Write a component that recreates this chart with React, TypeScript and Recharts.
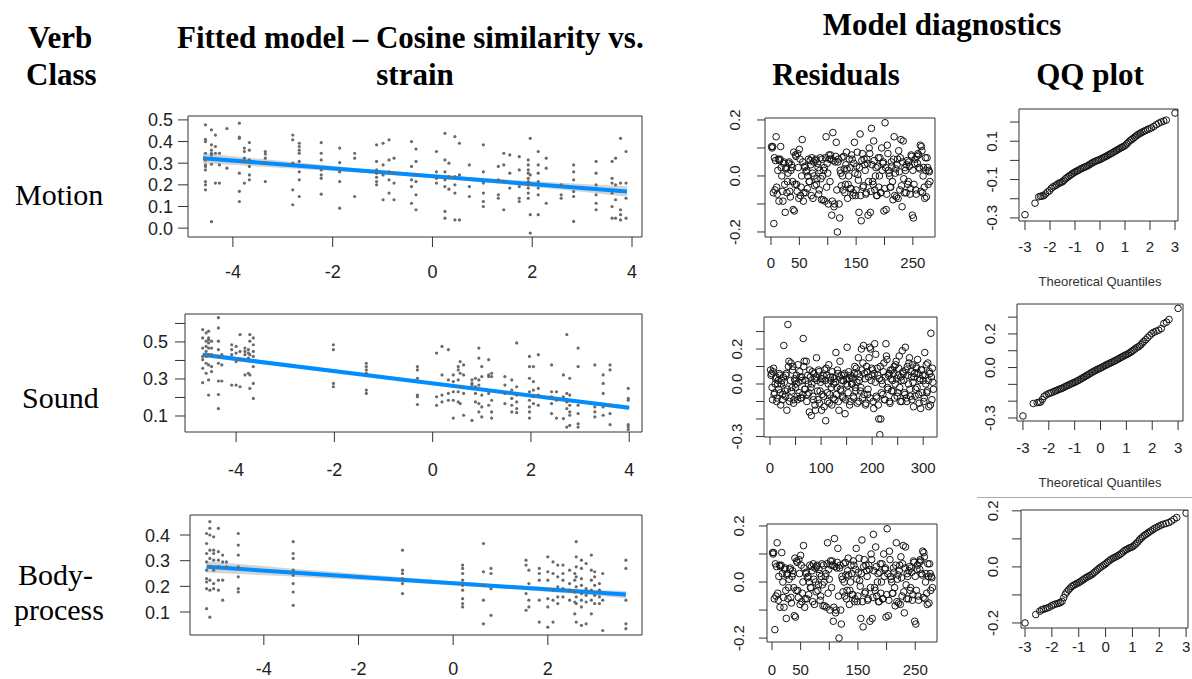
import React from 'react';
import { Area, ComposedChart, Line, ReferenceArea, Scatter, XAxis, YAxis } from 'recharts';

const SANS = '"Liberation Sans", Arial, sans-serif';
const SERIF = '"Liberation Serif", "Times New Roman", serif';

// ---- fitted model: strain (x) vs cosine similarity (y), one column of points per strain value
const motionColumns: [number, number[]][] = [
  [-4.55, [0.477, 0.41, 0.4, 0.346, 0.315, 0.292, 0.285, 0.269, 0.215, 0.2, 0.177]],
  [-4.43, [0.454, 0.385, 0.36, 0.346, 0.338, 0.295, 0.03]],
  [-4.35, [0.43, 0.377, 0.346, 0.208]],
  [-4.27, [0.346, 0.292, 0.208]],
  [-4.12, [0.46, 0.277]],
  [-3.87, [0.485, 0.42, 0.415, 0.254, 0.17, 0.123]],
  [-3.77, [0.37, 0.354, 0.323, 0.308, 0.208]],
  [-3.67, [0.395, 0.36, 0.315, 0.285, 0.246, 0.223]],
  [-3.35, [0.354, 0.343, 0.323, 0.3, 0.215]],
  [-2.8, [0.43, 0.408, 0.3, 0.177, 0.108]],
  [-2.67, [0.392, 0.377, 0.36, 0.346, 0.308, 0.26, 0.223, 0.146]],
  [-2.23, [0.395, 0.346, 0.315, 0.269, 0.246, 0.23, 0.157]],
  [-1.86, [0.37, 0.303, 0.26, 0.215, 0.092]],
  [-1.56, [0.346, 0.323, 0.146]],
  [-1.12, [0.385, 0.308, 0.269, 0.254, 0.235, 0.215, 0.2]],
  [-0.99, [0.392, 0.292, 0.246, 0.131]],
  [-0.87, [0.408, 0.315, 0.26, 0.223, 0.162]],
  [-0.77, [0.323, 0.254, 0.208, 0.131]],
  [-0.42, [0.4, 0.285, 0.223, 0.192, 0.115]],
  [-0.33, [0.365, 0.308, 0.246, 0.215, 0.154, 0.085]],
  [0.08, [0.354, 0.26, 0.23, 0.208]],
  [0.25, [0.438, 0.315, 0.26, 0.223, 0.192, 0.077, 0.046]],
  [0.33, [0.3, 0.238, 0.18]],
  [0.45, [0.423, 0.238, 0.2, 0.162, 0.038]],
  [0.54, [0.392, 0.246, 0.038]],
  [0.74, [0.292, 0.192, 0.146]],
  [1.02, [0.385, 0.26, 0.208, 0.162, 0.123, 0.1]],
  [1.32, [0.285, 0.223, 0.154, 0.138]],
  [1.43, [0.346, 0.292, 0.215, 0.085]],
  [1.55, [0.338, 0.254, 0.185]],
  [1.74, [0.33, 0.269, 0.192, 0.138, 0.123]],
  [1.92, [0.315, 0.292, 0.269, 0.254, 0.23, 0.215, 0.2, 0.185, 0.162, 0.138]],
  [1.96, [0.415, 0.246, 0.062, -0.023]],
  [2.12, [0.354, 0.292, 0.254, 0.215, 0.185, 0.154, 0.062]],
  [2.28, [0.323, 0.277, 0.115]],
  [2.58, [0.2, 0.154, 0.138]],
  [2.83, [0.292, 0.26, 0.223, 0.169, 0.146, 0.031]],
  [3.28, [0.308, 0.254, 0.2, 0.154, 0.115, 0.085]],
  [3.6, [0.308, 0.23, 0.208, 0.162, 0.1, 0.046]],
  [3.67, [0.323, 0.2, 0.131, 0.046]],
  [3.77, [0.415, 0.208, 0.085, 0.062, 0.038]],
  [3.88, [0.354, 0.208, 0.138, 0.046]],
];

const soundColumns: [number, number[]][] = [
  [-4.68, [0.567, 0.522, 0.467, 0.422, 0.404, 0.358, 0.28]],
  [-4.61, [0.549, 0.504, 0.476, 0.449, 0.422, 0.385, 0.331]],
  [-4.56, [0.558, 0.522, 0.513, 0.495, 0.467, 0.431, 0.376, 0.295, 0.213]],
  [-4.5, [0.504, 0.467, 0.431, 0.367, 0.34]],
  [-4.36, [0.631, 0.576, 0.504, 0.458, 0.422, 0.385, 0.289, 0.216, 0.14]],
  [-4.29, [0.431, 0.376, 0.289]],
  [-4.09, [0.485, 0.458, 0.431, 0.267]],
  [-4.0, [0.476, 0.44, 0.394, 0.267]],
  [-3.92, [0.54, 0.449, 0.404, 0.258]],
  [-3.82, [0.467, 0.449, 0.431, 0.322]],
  [-3.75, [0.458, 0.44, 0.413, 0.331]],
  [-3.72, [0.54, 0.504, 0.431, 0.322, 0.249]],
  [-3.65, [0.522, 0.485, 0.449, 0.422, 0.367, 0.276, 0.195]],
  [-2.02, [0.485, 0.458, 0.276, 0.258]],
  [-1.35, [0.385, 0.367, 0.349, 0.331, 0.24, 0.222]],
  [-0.31, [0.367, 0.349, 0.304, 0.213, 0.204, 0.162]],
  [0.08, [0.44, 0.204, 0.158]],
  [0.19, [0.476, 0.322, 0.213, 0.176]],
  [0.32, [0.458, 0.295, 0.222, 0.185]],
  [0.42, [0.322, 0.286, 0.231, 0.185, 0.089]],
  [0.52, [0.367, 0.349, 0.295, 0.231, 0.176]],
  [0.56, [0.394, 0.331, 0.258, 0.167]],
  [0.63, [0.376, 0.322, 0.222, 0.104]],
  [0.8, [0.295, 0.276, 0.267, 0.076]],
  [0.87, [0.304, 0.258, 0.222, 0.176]],
  [0.94, [0.467, 0.413, 0.295, 0.267, 0.167, 0.122]],
  [1.0, [0.367, 0.313, 0.213, 0.149, 0.095]],
  [1.14, [0.404, 0.322, 0.313, 0.222, 0.158]],
  [1.2, [0.331, 0.313, 0.185, 0.122, 0.089]],
  [1.47, [0.313, 0.267, 0.222, 0.167]],
  [1.61, [0.295, 0.24, 0.195, 0.158, 0.122]],
  [1.71, [0.495, 0.258, 0.213, 0.176, 0.14, 0.118]],
  [1.97, [0.422, 0.367, 0.304, 0.231, 0.185, 0.149, 0.122, 0.089]],
  [2.05, [0.367, 0.286, 0.24, 0.204, 0.167]],
  [2.15, [0.431, 0.249, 0.213, 0.158]],
  [2.42, [0.376, 0.231, 0.204, 0.167, 0.113]],
  [2.52, [0.231, 0.185, 0.089]],
  [2.66, [0.322, 0.204, 0.086]],
  [2.73, [0.54, 0.222, 0.176, 0.14, 0.04]],
  [2.79, [0.304, 0.213, 0.158, 0.122, 0.104, 0.049]],
  [2.96, [0.467, 0.367, 0.158, 0.113, 0.058, 0.04]],
  [3.3, [0.376, 0.149, 0.122, 0.095]],
  [3.47, [0.322, 0.276, 0.222, 0.149, 0.104]],
  [3.61, [0.376, 0.349, 0.158, 0.113, 0.053]],
  [3.98, [0.249, 0.195, 0.185, 0.053, 0.04, 0.027]],
];

const bodyColumns: [number, number[]][] = [
  [-5.21, [0.406, 0.367, 0.328, 0.295, 0.263, 0.23, 0.217, 0.191, 0.113]],
  [-5.14, [0.452, 0.426, 0.4, 0.341, 0.309, 0.276, 0.224, 0.185, 0.08]],
  [-5.06, [0.393, 0.341, 0.328, 0.302, 0.263, 0.211, 0.191]],
  [-4.96, [0.426, 0.335, 0.302, 0.276, 0.224, 0.185]],
  [-4.87, [0.322, 0.295, 0.224, 0.146]],
  [-4.79, [0.295, 0.276]],
  [-4.54, [0.406, 0.361, 0.322, 0.276, 0.237, 0.191, 0.178]],
  [-3.38, [0.374, 0.328, 0.309, 0.263, 0.243, 0.211, 0.178, 0.126]],
  [-1.07, [0.341, 0.263, 0.25, 0.23, 0.211, 0.172]],
  [0.2, [0.283, 0.27, 0.25, 0.224, 0.204, 0.185, 0.152, 0.133, 0.12]],
  [0.64, [0.367, 0.257, 0.204, 0.146, 0.054]],
  [0.8, [0.27, 0.25, 0.191, 0.087]],
  [1.54, [0.302, 0.283, 0.172, 0.107]],
  [1.6, [0.263, 0.211, 0.146, 0.12]],
  [1.82, [0.27, 0.25, 0.224, 0.146, 0.061]],
  [2.0, [0.315, 0.257, 0.224, 0.152, 0.12, 0.041]],
  [2.11, [0.295, 0.25, 0.185, 0.146, 0.061]],
  [2.21, [0.283, 0.237, 0.198, 0.159, 0.133]],
  [2.32, [0.283, 0.25, 0.224, 0.191, 0.159]],
  [2.46, [0.263, 0.211, 0.185, 0.146]],
  [2.57, [0.25, 0.224, 0.178, 0.139, 0.093]],
  [2.6, [0.374, 0.315, 0.276, 0.237, 0.198, 0.159, 0.133, 0.061]],
  [2.71, [0.302, 0.27, 0.23, 0.204, 0.172, 0.146, 0.12, 0.048]],
  [2.81, [0.289, 0.191, 0.165, 0.139, 0.054]],
  [2.92, [0.322, 0.263, 0.224, 0.185, 0.146, 0.093]],
  [2.99, [0.257, 0.237, 0.204, 0.165, 0.133]],
  [3.09, [0.211, 0.185, 0.159, 0.133]],
  [3.16, [0.25, 0.146, 0.028]],
  [3.65, [0.302, 0.27, 0.146, 0.054, 0.035]],
];

// fitted line end points and confidence band
const motionFitX = [-4.6, 3.9];
const motionFitY = [0.323, 0.169];
const motionBandX = [-4.6, -3, -1.5, 0, 1.5, 3, 3.9];
const motionBandLo = [0.3, 0.278, 0.257, 0.232, 0.202, 0.168, 0.145];
const motionBandHi = [0.346, 0.31, 0.277, 0.248, 0.224, 0.204, 0.193];

const soundFitX = [-4.68, 4.0];
const soundFitY = [0.431, 0.144];
const soundBandX = [-4.68, -3, -1.5, 0, 1.5, 3, 4.0];
const soundBandLo = [0.419, 0.366, 0.319, 0.27, 0.219, 0.168, 0.132];
const soundBandHi = [0.443, 0.384, 0.333, 0.282, 0.233, 0.186, 0.156];

const bodyFitX = [-5.21, 3.65];
const bodyFitY = [0.276, 0.168];
const bodyBandX = [-5.21, -3.5, -2, 0, 1.5, 3, 3.65];
const bodyBandLo = [0.254, 0.239, 0.225, 0.204, 0.186, 0.164, 0.154];
const bodyBandHi = [0.298, 0.271, 0.249, 0.22, 0.202, 0.186, 0.182];

// ---- residuals in observation order: odd-numbered and even-numbered observations
const motionResidualsOdd = [
  0.105, 0.105, -0.17, -0.05, 0.14, -0.065, 0.06, 0.055, 0.105, 0.0,
  -0.09, 0.05, -0.13, 0.03, -0.02, 0.045, -0.055, 0.02, 0.03, -0.12,
  -0.125, 0.075, -0.03, 0.08, -0.08, 0.06, -0.04, 0.13, -0.09, 0.03,
  -0.06, 0.02, 0.0, -0.02, 0.055, -0.07, 0.01, 0.05, -0.035, 0.06,
  -0.01, 0.03, -0.05, 0.065, -0.085, 0.0, 0.02, -0.09, 0.14, 0.045,
  -0.1, 0.06, 0.075, -0.14, 0.155, -0.11, 0.05, 0.12, -0.2, 0.06,
  -0.15, 0.01, 0.065, -0.05, 0.025, -0.03, 0.085, -0.08, 0.0, 0.03,
  -0.045, 0.06, -0.06, 0.12, -0.07, 0.035, 0.005, -0.13, 0.15, -0.16,
  0.08, -0.035, 0.04, -0.065, 0.06, -0.14, 0.1, -0.13, 0.17, -0.02,
  0.125, -0.05, 0.03, -0.07, 0.065, 0.0, -0.06, 0.1, 0.045, -0.125,
  0.19, -0.12, 0.11, 0.02, 0.0, -0.04, 0.035, -0.085, 0.14, 0.01,
  -0.075, 0.06, 0.09, -0.05, 0.13, -0.11, 0.125, -0.06, 0.02, 0.04,
  -0.03, 0.05, -0.065, 0.075, -0.14, -0.15, 0.045, -0.05, 0.07, 0.08,
  0.03, 0.11, 0.105, -0.06, 0.03, -0.08, 0.02, 0.065, -0.03, 0.015,
];
const motionResidualsEven = [
  0.1, -0.06, 0.065, 0.055, -0.04, 0.02, -0.09, 0.06, 0.03, -0.055,
  0.045, -0.03, 0.025, -0.06, 0.01, 0.05, -0.075, 0.04, -0.02, 0.085,
  -0.03, 0.07, -0.055, 0.03, 0.095, -0.07, 0.0, 0.05, -0.06, 0.035,
  0.015, -0.045, 0.06, -0.02, 0.04, 0.065, -0.08, 0.0, 0.055, -0.03,
  0.045, -0.065, 0.02, -0.01, 0.06, -0.085, 0.03, 0.065, -0.04, 0.01,
  0.075, -0.02, 0.06, -0.09, 0.055, -0.1, 0.07, -0.05, 0.05, -0.1,
  0.02, -0.035, 0.0, 0.07, -0.06, 0.04, 0.025, -0.03, 0.06, -0.045,
  0.075, -0.07, 0.045, 0.01, -0.05, 0.085, -0.015, 0.03, -0.07, 0.055,
  -0.04, 0.06, 0.02, -0.06, 0.045, -0.02, 0.08, -0.055, 0.04, -0.03,
  0.055, 0.0, -0.07, 0.035, -0.04, 0.065, -0.06, 0.02, 0.05, -0.045,
  0.03, -0.065, 0.08, 0.01, -0.04, 0.05, -0.02, 0.06, -0.07, 0.025,
  0.04, -0.08, 0.015, 0.065, -0.035, 0.05, -0.01, 0.03, -0.06, 0.055,
  -0.02, 0.035, -0.045, 0.07, 0.02, -0.03, 0.06, -0.065, 0.045, 0.075,
  0.025, -0.055, 0.09, 0.0, -0.04, 0.065, -0.075, 0.03, 0.02, -0.02,
];

const soundResidualsOdd = [
  0.08, 0.06, -0.09, 0.09, -0.05, 0.03, -0.1, 0.0, -0.03, 0.05,
  -0.12, 0.02, -0.06, 0.22, -0.04, 0.05, -0.15, 0.34, 0.13, -0.08,
  0.12, -0.02, 0.1, -0.09, 0.02, 0.0, -0.07, 0.11, -0.05, 0.04,
  -0.08, 0.02, 0.26, 0.13, -0.03, 0.13, -0.06, 0.0, -0.16, 0.04,
  -0.18, 0.07, -0.09, 0.03, -0.15, 0.15, -0.04, 0.08, -0.11, 0.01,
  -0.15, 0.03, -0.07, 0.08, -0.21, 0.05, -0.1, 0.11, -0.06, 0.02,
  -0.12, 0.04, 0.0, -0.09, 0.18, -0.02, 0.06, -0.15, 0.13, -0.04,
  0.02, -0.08, 0.05, -0.17, 0.0, 0.21, -0.05, 0.03, -0.1, 0.04,
  0.0, -0.07, 0.06, -0.02, 0.09, -0.11, 0.15, 0.02, -0.04, 0.2,
  -0.08, 0.22, 0.06, -0.12, 0.1, -0.06, 0.04, 0.21, 0.2, 0.09,
  0.08, -0.14, 0.23, 0.17, -0.08, 0.05, -0.2, -0.29, -0.2, 0.02,
  -0.06, 0.12, -0.09, 0.23, 0.14, -0.03, 0.06, -0.11, 0.03, 0.08,
  -0.04, 0.1, 0.0, 0.13, -0.07, 0.05, 0.16, -0.1, 0.02, 0.19,
  0.06, -0.05, 0.21, -0.08, 0.1, 0.0, 0.15, -0.07, 0.04, 0.11,
  -0.13, 0.06, -0.03, 0.09, 0.14, -0.06, 0.02, -0.14, 0.08, 0.05,
  -0.1, 0.18, 0.0, -0.05, 0.12, -0.13, 0.06, 0.29, -0.09, 0.01,
];
const soundResidualsEven = [
  0.05, -0.02, 0.07, -0.06, 0.0, 0.04, -0.08, 0.02, 0.06, -0.05,
  0.0, -0.09, 0.04, 0.01, -0.07, 0.06, -0.03, 0.1, -0.1, 0.02,
  -0.04, 0.08, -0.11, 0.03, -0.02, 0.05, -0.09, 0.01, 0.07, -0.08,
  0.04, -0.06, 0.1, -0.03, 0.02, -0.1, 0.05, -0.05, 0.08, -0.02,
  0.0, -0.07, 0.06, -0.12, 0.04, 0.02, -0.09, 0.07, -0.04, 0.03,
  -0.06, 0.05, -0.13, 0.02, 0.09, -0.05, 0.0, -0.11, 0.04, -0.02,
  0.07, -0.08, 0.03, 0.01, -0.06, 0.08, -0.1, 0.04, -0.03, 0.05,
  -0.07, 0.02, 0.06, -0.09, 0.03, -0.01, 0.07, -0.12, 0.05, 0.0,
  0.03, -0.08, 0.1, -0.04, 0.01, 0.06, -0.1, 0.04, -0.02, 0.08,
  0.12, -0.06, 0.03, -0.11, 0.07, -0.03, 0.15, -0.08, 0.02, 0.05,
  -0.1, 0.06, 0.01, -0.07, 0.09, -0.12, 0.03, 0.1, -0.05, 0.0,
  0.07, -0.09, 0.04, 0.16, -0.02, 0.05, -0.1, 0.08, -0.04, 0.02,
  0.06, -0.08, 0.11, 0.03, -0.05, 0.09, -0.02, 0.04, -0.1, 0.07,
  0.02, -0.06, 0.08, -0.1, 0.05, 0.12, -0.03, 0.07, -0.09, 0.01,
  0.04, -0.07, 0.1, -0.02, 0.06, -0.11, 0.03, 0.08, -0.05, 0.02,
  -0.08, 0.05, 0.11, -0.04, 0.02, 0.07, -0.12, 0.04, 0.09, -0.03,
];

const bodyResidualsOdd = motionResidualsOdd;
const bodyResidualsEven = motionResidualsEven;

// ---- normal QQ: theoretical quantiles and sample quantiles
const qqTheoretical = [
  -3.0, -2.6, -2.45, -2.38, -2.32, -2.25, -2.18, -2.1, -2.02, -1.95, -1.88, -1.8, -1.74, -1.68,
  -1.62, -1.56, -1.5, -1.44, -1.38, -1.32, -1.26, -1.2, -1.14, -1.08, -1.02, -0.96, -0.9, -0.84,
  -0.78, -0.72, -0.66, -0.6, -0.54, -0.48, -0.42, -0.36, -0.3, -0.24, -0.18, -0.12, -0.06, 0,
  0.06, 0.12, 0.18, 0.24, 0.3, 0.36, 0.42, 0.48, 0.54, 0.6, 0.66, 0.72, 0.78, 0.84, 0.9, 0.96,
  1.02, 1.08, 1.14, 1.2, 1.26, 1.32, 1.38, 1.44, 1.5, 1.56, 1.62, 1.68, 1.75, 1.82, 1.9, 1.98,
  2.06, 2.15, 2.25, 2.35, 2.45, 2.55, 2.65, 3.0,
];
const motionQq = [
  -0.283, -0.223, -0.19, -0.187, -0.186, -0.184, -0.175, -0.165, -0.158, -0.146, -0.138, -0.133, -0.128, -0.122,
  -0.118, -0.115, -0.111, -0.104, -0.096, -0.09, -0.084, -0.078, -0.073, -0.067, -0.062, -0.058, -0.054, -0.05,
  -0.045, -0.041, -0.038, -0.034, -0.031, -0.027, -0.022, -0.017, -0.012, -0.008, -0.004, -0.001, 0.002, 0.005,
  0.009, 0.013, 0.017, 0.021, 0.025, 0.03, 0.034, 0.038, 0.043, 0.048, 0.052, 0.057, 0.061, 0.066, 0.07, 0.074,
  0.079, 0.087, 0.095, 0.103, 0.108, 0.114, 0.121, 0.127, 0.133, 0.138, 0.142, 0.147, 0.151, 0.156, 0.161, 0.165,
  0.17, 0.177, 0.186, 0.194, 0.2, 0.205, 0.21, 0.247,
];
const soundQq = [
  -0.288, -0.214, -0.209, -0.207, -0.205, -0.19, -0.172, -0.163, -0.156, -0.152, -0.148, -0.143, -0.139, -0.135,
  -0.131, -0.127, -0.124, -0.12, -0.115, -0.11, -0.106, -0.102, -0.097, -0.093, -0.089, -0.085, -0.08, -0.075,
  -0.07, -0.064, -0.059, -0.054, -0.048, -0.043, -0.037, -0.031, -0.026, -0.021, -0.016, -0.011, -0.007, -0.003,
  0.002, 0.007, 0.012, 0.017, 0.021, 0.026, 0.03, 0.034, 0.039, 0.044, 0.049, 0.054, 0.059, 0.064, 0.069, 0.074,
  0.078, 0.083, 0.089, 0.095, 0.102, 0.109, 0.116, 0.122, 0.127, 0.136, 0.146, 0.156, 0.166, 0.178, 0.19, 0.202,
  0.21, 0.216, 0.222, 0.232, 0.262, 0.27, 0.286, 0.352,
];
const bodyQq = [
  -0.2, -0.17, -0.158, -0.153, -0.151, -0.149, -0.147, -0.144, -0.139, -0.136, -0.133, -0.131, -0.129, -0.127,
  -0.123, -0.11, -0.097, -0.089, -0.082, -0.076, -0.07, -0.066, -0.063, -0.06, -0.057, -0.054, -0.05, -0.046,
  -0.042, -0.038, -0.035, -0.032, -0.029, -0.025, -0.02, -0.015, -0.01, -0.005, -0.001, 0.003, 0.007, 0.011,
  0.016, 0.021, 0.025, 0.029, 0.032, 0.035, 0.038, 0.041, 0.045, 0.049, 0.054, 0.059, 0.062, 0.065, 0.068, 0.07,
  0.073, 0.078, 0.083, 0.089, 0.096, 0.102, 0.107, 0.112, 0.116, 0.12, 0.124, 0.128, 0.132, 0.137, 0.141, 0.145,
  0.149, 0.152, 0.155, 0.158, 0.163, 0.17, 0.176, 0.192,
];

type Pt = { x: number; y: number };
const fromColumns = (cols: [number, number[]][]): Pt[] =>
  cols.flatMap(([x, ys]) => ys.map((y) => ({ x, y })));
const zip = (xs: number[], ys: number[]): Pt[] => xs.map((x, i) => ({ x, y: ys[i] }));
// observation number for the odd (start 1) and even (start 2) lists
const byIndex = (ys: number[], start: number): Pt[] => ys.map((y, i) => ({ x: start + i * 2, y }));
const band = (xs: number[], lo: number[], hi: number[]) => xs.map((x, i) => ({ x, band: [lo[i], hi[i]] }));

const GrayDot = (props: any) => <circle cx={props.cx} cy={props.cy} r={1.6} fill="#6a6a6a" />;
const Ring = (props: any) => (
  <circle cx={props.cx} cy={props.cy} r={3.3} fill="none" stroke="#151515" strokeWidth={1} />
);

const Y_W = 60;
const X_H = 60;
const PAD = 10;
const T_PAD = 14;

interface PanelProps {
  box: [number, number, number, number];
  xDomain: [number, number];
  yDomain: [number, number];
  xTicks: number[];
  xLabels: number[];
  yTicks: number[];
  yLabels: number[];
  xLabelY: number;
  yLabelX: number;
  rotateY?: boolean;
  fontSize: number;
  tickLen: number;
  children: React.ReactNode;
}

function Panel(p: PanelProps) {
  const [l, t, r, b] = p.box;
  const w = r - l;
  const h = b - t;
  const originX = l - Y_W;
  const originY = t - T_PAD;
  const has = (list: number[], v: number) => list.some((q) => Math.abs(q - v) < 1e-9);

  const xTick = (props: any) => {
    const v = props.payload.value;
    if (!has(p.xLabels, v)) return <g />;
    return (
      <text x={props.x} y={p.xLabelY - originY + p.fontSize * 0.36} textAnchor="middle"
        fontSize={p.fontSize} fontFamily={SANS} fill="#222">{v}</text>
    );
  };
  const yTick = (props: any) => {
    const v = props.payload.value;
    if (!has(p.yLabels, v)) return <g />;
    const label = v.toFixed(1);
    const lx = p.yLabelX - originX;
    if (p.rotateY) {
      return (
        <text transform={`translate(${lx + p.fontSize * 0.36},${props.y}) rotate(-90)`} textAnchor="middle"
          fontSize={p.fontSize} fontFamily={SANS} fill="#222">{label}</text>
      );
    }
    return (
      <text x={lx} y={props.y + p.fontSize * 0.36} textAnchor="end"
        fontSize={p.fontSize} fontFamily={SANS} fill="#222">{label}</text>
    );
  };

  return (
    <div style={{ position: 'absolute', left: originX, top: originY }}>
      <ComposedChart width={Y_W + w + PAD} height={T_PAD + h + X_H}
        margin={{ top: T_PAD, right: PAD, bottom: 0, left: 0 }}>
        <XAxis type="number" dataKey="x" domain={p.xDomain} ticks={p.xTicks} interval={0} allowDataOverflow
          height={X_H} axisLine={false} tickLine={{ stroke: '#333' }} tickSize={p.tickLen} tick={xTick} />
        <YAxis type="number" dataKey="y" domain={p.yDomain} ticks={p.yTicks} interval={0} allowDataOverflow
          width={Y_W} axisLine={false} tickLine={{ stroke: '#333' }} tickSize={p.tickLen} tick={yTick} />
        {p.children}
        <ReferenceArea x1={p.xDomain[0]} x2={p.xDomain[1]} y1={p.yDomain[0]} y2={p.yDomain[1]}
          fill="none" fillOpacity={0} stroke="#333" strokeWidth={1} ifOverflow="visible" />
      </ComposedChart>
    </div>
  );
}

function FitSeries({ pts, fitX, fitY, bx, lo, hi }: { pts: Pt[]; fitX: number[]; fitY: number[]; bx: number[]; lo: number[]; hi: number[] }) {
  return (
    <>
      <Area data={band(bx, lo, hi)} dataKey="band" type="linear" stroke="none" fill="#d4d4d4" fillOpacity={1}
        isAnimationActive={false} />
      <Line data={zip(fitX, fitY)} dataKey="y" type="linear" stroke="#008DFF" strokeWidth={4} dot={false}
        isAnimationActive={false} />
      <Scatter data={pts} shape={GrayDot} isAnimationActive={false} />
    </>
  );
}

const resTicksX = [0, 50, 100, 150, 200, 250];
const resSoundTicksX = [0, 50, 100, 150, 200, 250, 300];
const qqTicksX = [-3, -2, -1, 0, 1, 2, 3];

export default function App() {
  return (
    <div style={{ position: 'absolute', left: 0, top: 0, width: 1192, height: 679, background: '#fff', overflow: 'hidden' }}>
      {/* fitted models */}
      <Panel box={[188, 116, 642, 237]} xDomain={[-4.9, 4.2]} yDomain={[-0.041, 0.518]}
        xTicks={[-4, -2, 0, 2, 4]} xLabels={[-4, -2, 0, 2, 4]} yTicks={[0, 0.1, 0.2, 0.3, 0.4, 0.5]}
        yLabels={[0, 0.1, 0.2, 0.3, 0.4, 0.5]} xLabelY={272} yLabelX={173} fontSize={18} tickLen={10}>
        <FitSeries pts={fromColumns(motionColumns)} fitX={motionFitX} fitY={motionFitY}
          bx={motionBandX} lo={motionBandLo} hi={motionBandHi} />
      </Panel>
      <Panel box={[185, 314, 642, 432]} xDomain={[-5.04, 4.26]} yDomain={[0.0135, 0.651]}
        xTicks={[-4, -2, 0, 2, 4]} xLabels={[-4, -2, 0, 2, 4]} yTicks={[0.1, 0.2, 0.3, 0.4, 0.5, 0.6]}
        yLabels={[0.1, 0.3, 0.5]} xLabelY={470} yLabelX={168} fontSize={18} tickLen={10}>
        <FitSeries pts={fromColumns(soundColumns)} fitX={soundFitX} fitY={soundFitY}
          bx={soundBandX} lo={soundBandLo} hi={soundBandHi} />
      </Panel>
      <Panel box={[190, 515, 642, 635]} xDomain={[-5.56, 3.99]} yDomain={[0.0105, 0.478]}
        xTicks={[-4, -2, 0, 2]} xLabels={[-4, -2, 0, 2]} yTicks={[0.1, 0.2, 0.3, 0.4]}
        yLabels={[0.1, 0.2, 0.3, 0.4]} xLabelY={669} yLabelX={170} fontSize={18} tickLen={10}>
        <FitSeries pts={fromColumns(bodyColumns)} fitX={bodyFitX} fitY={bodyFitY}
          bx={bodyBandX} lo={bodyBandLo} hi={bodyBandHi} />
      </Panel>

      {/* residuals */}
      <Panel box={[765, 118, 935, 237]} xDomain={[-10.6, 289]} yDomain={[-0.218, 0.207]}
        xTicks={resTicksX} xLabels={[0, 50, 150, 250]} yTicks={[-0.2, -0.1, 0, 0.1, 0.2]}
        yLabels={[-0.2, 0, 0.2]} xLabelY={263} yLabelX={735} rotateY fontSize={15} tickLen={8}>
        <Scatter data={byIndex(motionResidualsOdd, 1)} shape={Ring} isAnimationActive={false} />
        <Scatter data={byIndex(motionResidualsEven, 2)} shape={Ring} isAnimationActive={false} />
      </Panel>
      <Panel box={[764, 317, 937, 437]} xDomain={[-11.8, 327]} yDomain={[-0.303, 0.383]}
        xTicks={resSoundTicksX} xLabels={[0, 100, 200, 300]} yTicks={[-0.3, -0.2, -0.1, 0, 0.1, 0.2, 0.3]}
        yLabels={[-0.3, 0, 0.2]} xLabelY={468} yLabelX={737} rotateY fontSize={15} tickLen={8}>
        <Scatter data={byIndex(soundResidualsOdd, 1)} shape={Ring} isAnimationActive={false} />
        <Scatter data={byIndex(soundResidualsEven, 2)} shape={Ring} isAnimationActive={false} />
      </Panel>
      <Panel box={[767, 524, 937, 642]} xDomain={[-8.7, 288]} yDomain={[-0.214, 0.207]}
        xTicks={resTicksX} xLabels={[0, 50, 150, 250]} yTicks={[-0.2, -0.1, 0, 0.1, 0.2]}
        yLabels={[-0.2, 0, 0.2]} xLabelY={670} yLabelX={739} rotateY fontSize={15} tickLen={8}>
        <Scatter data={byIndex(bodyResidualsOdd, 1)} shape={Ring} isAnimationActive={false} />
        <Scatter data={byIndex(bodyResidualsEven, 2)} shape={Ring} isAnimationActive={false} />
      </Panel>

      {/* QQ plots */}
      <Panel box={[1019, 109, 1178, 221]} xDomain={[-3.24, 3.12]} yDomain={[-0.316, 0.268]}
        xTicks={qqTicksX} xLabels={qqTicksX} yTicks={[-0.3, -0.2, -0.1, 0, 0.1, 0.2]}
        yLabels={[-0.3, -0.1, 0.1]} xLabelY={247} yLabelX={992} rotateY fontSize={15} tickLen={9}>
        <Scatter data={zip(qqTheoretical, motionQq)} shape={Ring} isAnimationActive={false} />
      </Panel>
      <Panel box={[1017, 304, 1183, 421]} xDomain={[-3.23, 3.19]} yDomain={[-0.318, 0.378]}
        xTicks={qqTicksX} xLabels={qqTicksX} yTicks={[-0.3, -0.2, -0.1, 0, 0.1, 0.2, 0.3]}
        yLabels={[-0.3, 0, 0.2]} xLabelY={448} yLabelX={990} rotateY fontSize={15} tickLen={9}>
        <Scatter data={zip(qqTheoretical, soundQq)} shape={Ring} isAnimationActive={false} />
      </Panel>
      <Panel box={[1021, 510, 1188, 628]} xDomain={[-3.15, 3.07]} yDomain={[-0.218, 0.203]}
        xTicks={qqTicksX} xLabels={qqTicksX} yTicks={[-0.2, -0.1, 0, 0.1, 0.2]}
        yLabels={[-0.2, 0, 0.2]} xLabelY={647} yLabelX={993} rotateY fontSize={15} tickLen={9}>
        <Scatter data={zip(qqTheoretical, bodyQq)} shape={Ring} isAnimationActive={false} />
      </Panel>

      {/* headings and row labels */}
      <svg width={1192} height={679} style={{ position: 'absolute', left: 0, top: 0, pointerEvents: 'none' }}>
        <g fontFamily={SERIF} fontWeight="bold" fontSize={31} fill="#000">
          <text x={28} y={48}>Verb</text>
          <text x={26} y={85}>Class</text>
          <text x={177} y={48}>Fitted model – Cosine similarity vs.</text>
          <text x={415} y={85} textAnchor="middle">strain</text>
          <text x={942} y={35} textAnchor="middle">Model diagnostics</text>
          <text x={836} y={85} textAnchor="middle">Residuals</text>
          <text x={1090} y={85} textAnchor="middle">QQ plot</text>
        </g>
        <g fontFamily={SERIF} fontSize={30} fill="#000">
          <text x={15} y={205}>Motion</text>
          <text x={22} y={408}>Sound</text>
          <text x={18} y={585}>Body-</text>
          <text x={14} y={620}>process</text>
        </g>
        <g fontFamily={SANS} fontSize={13} fill="#333" textAnchor="middle">
          <text x={1100} y={286}>Theoretical Quantiles</text>
          <text x={1100} y={487}>Theoretical Quantiles</text>
        </g>
        <line x1={977} y1={497.5} x2={1192} y2={497.5} stroke="#aaa" strokeWidth={1} />
      </svg>
    </div>
  );
}
